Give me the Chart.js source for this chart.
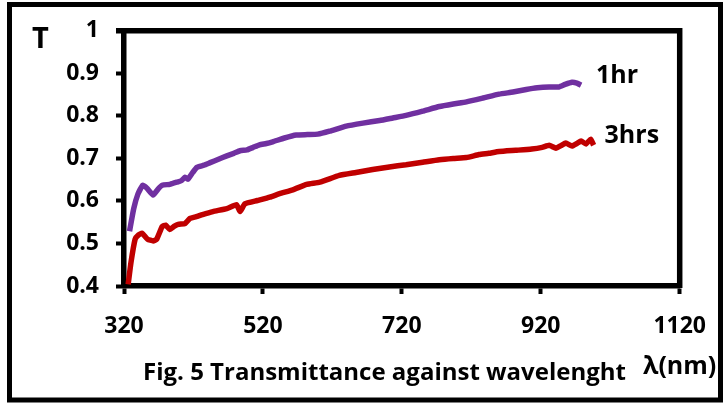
<!DOCTYPE html>
<html>
<head>
<meta charset="utf-8">
<script src="https://cdn.jsdelivr.net/npm/chart.js@4.4.0/dist/chart.umd.min.js"></script>
<style>
  html, body { margin: 0; padding: 0; background: #fff; }
  #wrap { width: 725px; height: 404px; position: relative; }
</style>
</head>
<body>
<div id="wrap"><canvas id="transmittance"></canvas></div>
<script>
// values (wavelength in nm, transmittance T)
const wl1hr = [328, 334, 340, 347, 353, 362, 369, 375, 386, 396, 403, 408, 412, 419, 425, 435, 444, 456, 468, 478,
  487, 497, 506, 515, 525, 534, 551, 568, 584, 599, 616, 640, 664, 688, 707, 726, 750, 774, 794, 813,
  837, 860, 880, 899, 915, 932, 946, 955, 965, 972, 978];
const t1hr = [0.529, 0.582, 0.616, 0.637, 0.630, 0.614, 0.628, 0.637, 0.639, 0.644, 0.648, 0.656, 0.651, 0.667, 0.679, 0.684, 0.690, 0.698, 0.706, 0.712,
  0.718, 0.720, 0.726, 0.732, 0.735, 0.739, 0.748, 0.755, 0.756, 0.757, 0.764, 0.776, 0.783, 0.789, 0.795, 0.801, 0.811, 0.822, 0.828, 0.833,
  0.842, 0.851, 0.856, 0.862, 0.866, 0.868, 0.868, 0.874, 0.879, 0.877, 0.872];

const wl3hrs = [326, 330, 336, 341, 346, 354, 362, 367, 375, 380, 386, 392, 398, 408, 415, 424, 433, 448, 468, 482,
  487, 494, 512, 530, 544, 563, 583, 602, 630, 654, 678, 702, 726, 750, 774, 794, 813, 831, 845, 860,
  884, 907, 922, 932, 942, 949, 956, 965, 972, 978, 985, 992, 996];
const t3hrs = [0.404, 0.455, 0.510, 0.520, 0.524, 0.510, 0.506, 0.510, 0.540, 0.543, 0.533, 0.540, 0.545, 0.547, 0.559, 0.563, 0.568, 0.575, 0.582, 0.591,
  0.575, 0.593, 0.601, 0.609, 0.617, 0.626, 0.639, 0.644, 0.660, 0.667, 0.674, 0.680, 0.685, 0.691, 0.697, 0.700, 0.702, 0.709, 0.712, 0.716,
  0.719, 0.722, 0.726, 0.731, 0.724, 0.730, 0.736, 0.729, 0.735, 0.741, 0.734, 0.745, 0.731];

const seriesNames = ['1hr', '3hrs'];
const xTicks = [320, 520, 720, 920, 1120];
const yTicks = [0.4, 0.5, 0.6, 0.7, 0.8, 0.9, 1];

const toPoints = (xs, ys) => xs.map((x, i) => ({ x: x, y: ys[i] }));
const FONT = '"Open Sans"';

// frame, axis letters, caption and the end-of-line series names
const extras = {
    id: 'extras',
    afterDraw(chart) {
        const ctx = chart.ctx;
        const a = chart.chartArea;
        ctx.save();
        ctx.strokeStyle = '#000';
        ctx.lineWidth = 5;
        ctx.strokeRect(9.5, 4.5, 711, 395.5);

        // top and right sides of the plot box
        ctx.lineWidth = 5.5;
        ctx.beginPath();
        ctx.moveTo(a.left - 8, a.top);
        ctx.lineTo(a.right, a.top);
        ctx.lineTo(a.right, a.bottom + 2);
        ctx.stroke();

        ctx.fillStyle = '#000';
        ctx.textBaseline = 'alphabetic';
        ctx.textAlign = 'left';
        ctx.font = 'bold 29px ' + FONT;
        ctx.fillText('T', 32, 48);

        ctx.font = 'bold 24px ' + FONT;
        ctx.fillText('Fig. 5 Transmittance against wavelenght', 143, 380);
        ctx.font = 'bold 25px ' + FONT;
        ctx.fillText('λ(nm)', 643, 374);

        // series names next to the last point of each line
        chart.data.datasets.forEach((ds, i) => {
            const meta = chart.getDatasetMeta(i);
            const last = meta.data[meta.data.length - 1];
            const dx = i === 0 ? 15 : 11;
            ctx.fillText(ds.label, last.x + dx, last.y - 2);
        });
        ctx.restore();
    }
};

const ctx = document.getElementById('transmittance').getContext('2d');

const transmittance = new Chart(ctx, {
    type: 'line',
    data: {
        datasets: [{
            label: seriesNames[0],
            data: toPoints(wl1hr, t1hr),
            borderColor: '#7030A0',
            borderWidth: 5.5,
            pointRadius: 0,
            tension: 0.15,
            fill: false
        }, {
            label: seriesNames[1],
            data: toPoints(wl3hrs, t3hrs),
            borderColor: '#C00000',
            borderWidth: 5.5,
            pointRadius: 0,
            tension: 0.15,
            fill: false
        }]
    },
    options: {
        responsive: true,
        maintainAspectRatio: false,
        animation: false,
        layout: {
            padding: { top: 26, right: 44, left: 0, bottom: 0 }
        },
        plugins: {
            legend: { display: false },
            tooltip: { enabled: false }
        },
        scales: {
            x: {
                type: 'linear',
                min: xTicks[0],
                max: xTicks[xTicks.length - 1],
                afterBuildTicks: (scale) => { scale.ticks = xTicks.map(v => ({ value: v })); },
                afterFit: (scale) => { scale.height = 118; },
                grid: {
                    drawOnChartArea: false,
                    color: '#000',
                    tickLength: 8,
                    tickWidth: 4
                },
                border: { color: '#000', width: 5.5 },
                ticks: {
                    color: '#000',
                    padding: 19,
                    maxRotation: 0,
                    callback: (v) => String(v),
                    font: { family: FONT, size: 23, weight: 'bold' }
                }
            },
            y: {
                min: yTicks[0],
                max: yTicks[yTicks.length - 1],
                afterBuildTicks: (scale) => { scale.ticks = yTicks.map(v => ({ value: v })); },
                afterFit: (scale) => { scale.width = 124; },
                grid: {
                    drawOnChartArea: false,
                    color: '#000',
                    tickLength: 8,
                    tickWidth: 4
                },
                border: { color: '#000', width: 5.5 },
                ticks: {
                    color: '#000',
                    padding: 17,
                    callback: (v) => String(v),
                    font: { family: FONT, size: 23, weight: 'bold' }
                }
            }
        }
    },
    plugins: [extras]
});
</script>
</body>
</html>
